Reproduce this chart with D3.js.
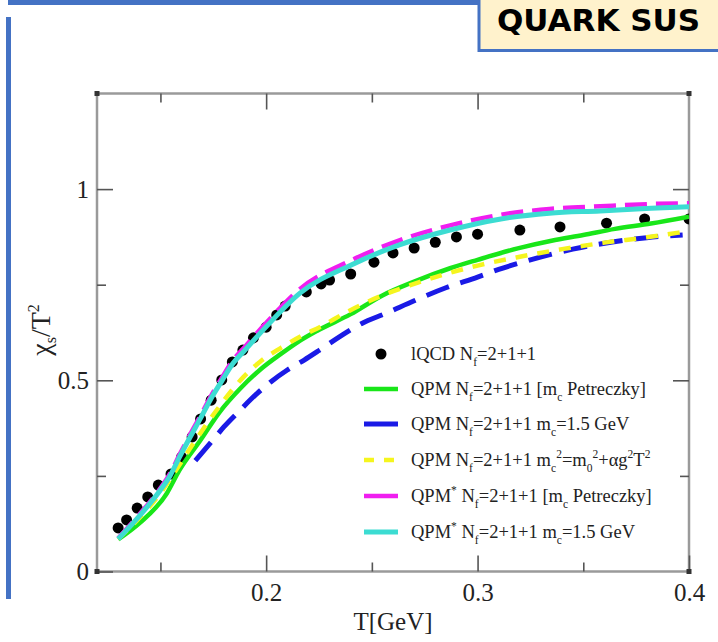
<!DOCTYPE html>
<html><head><meta charset="utf-8">
<script src="https://cdn.jsdelivr.net/npm/d3@7"></script>
<style>body{margin:0;background:#fff}svg{display:block}</style>
</head><body><svg id="c" width="718" height="642"></svg>
<script>
// ---- data ----
const lqcdT   = [0.130,0.134,0.139,0.144,0.149,0.155,0.160,0.165,0.169,0.174,0.179,0.184,0.189,0.194,0.200,0.205,0.209,0.219,0.226,0.230,0.240,0.251,0.260,0.270,0.280,0.290,0.300,0.320,0.339,0.361,0.379,0.400];
const lqcdChi = [0.114,0.135,0.166,0.195,0.226,0.255,0.299,0.352,0.399,0.448,0.501,0.548,0.579,0.611,0.639,0.671,0.694,0.731,0.752,0.762,0.778,0.809,0.833,0.846,0.861,0.875,0.882,0.893,0.901,0.911,0.922,0.922];

const greenT   = [0.130,0.140,0.153,0.159,0.169,0.178,0.188,0.197,0.207,0.215,0.224,0.240,0.255,0.270,0.287,0.300,0.319,0.335,0.350,0.365,0.382,0.400];
const greenChi = [0.084,0.126,0.204,0.265,0.344,0.417,0.480,0.527,0.569,0.600,0.629,0.673,0.722,0.758,0.793,0.815,0.845,0.865,0.880,0.896,0.910,0.928];

const blueT   = [0.1665,0.175,0.180,0.187,0.195,0.202,0.210,0.218,0.225,0.235,0.245,0.257,0.270,0.285,0.300,0.310,0.323,0.345,0.363,0.380,0.397];
const blueChi = [0.290,0.345,0.378,0.418,0.462,0.495,0.527,0.553,0.578,0.615,0.648,0.676,0.708,0.742,0.770,0.790,0.812,0.843,0.861,0.873,0.880];

const yellowT   = [0.130,0.140,0.150,0.157,0.165,0.177,0.185,0.189,0.197,0.207,0.216,0.226,0.238,0.254,0.270,0.280,0.300,0.320,0.340,0.360,0.380,0.396];
const yellowChi = [0.085,0.140,0.205,0.262,0.330,0.425,0.482,0.507,0.548,0.585,0.614,0.641,0.678,0.720,0.752,0.770,0.800,0.823,0.843,0.860,0.874,0.887];

const cyanT   = [0.130,0.140,0.150,0.1545,0.159,0.164,0.169,0.1735,0.179,0.184,0.190,0.1995,0.216,0.240,0.263,0.287,0.311,0.334,0.358,0.382,0.401];
const cyanChi = [0.085,0.145,0.213,0.250,0.299,0.351,0.401,0.448,0.498,0.542,0.579,0.637,0.728,0.801,0.854,0.893,0.922,0.937,0.943,0.950,0.954];

const magentaT   = [0.130,0.140,0.150,0.1545,0.159,0.164,0.169,0.1735,0.179,0.184,0.190,0.1995,0.216,0.240,0.263,0.287,0.311,0.334,0.358,0.382,0.401];
const magentaChi = [0.087,0.149,0.218,0.256,0.305,0.358,0.408,0.455,0.506,0.550,0.588,0.647,0.739,0.813,0.866,0.905,0.933,0.948,0.955,0.961,0.963];

const xMajor = [0.2,0.3,0.4], xMinor = [0.15,0.25,0.35];
const yMajor = [0,0.5,1], yMinor = [0.25,0.75];
const xLabels = ["0.2","0.3","0.4"], yLabels = ["0","0.5","1"];

// ---- drawing ----
const svg = d3.select("#c");
const L=97,R=689,T=93.5,B=571.5;
const x = d3.scaleLinear([0.12,0.4],[L,R]);
const y = d3.scaleLinear([0,1.25],[B,T]);
const serif = "'Liberation Serif','Times New Roman',serif";

// slide decorations
svg.append("rect").attr("x",8).attr("y",0).attr("width",472).attr("height",5).attr("fill","#4472C4");
svg.append("rect").attr("x",6).attr("y",17).attr("width",5).attr("height",582).attr("fill","#4472C4");
svg.append("rect").attr("x",479).attr("y",-5).attr("width",260).attr("height",55.5)
  .attr("fill","#FFF2CC").attr("stroke","#4472C4").attr("stroke-width",3);
svg.append("text").attr("x",497).attr("y",31).attr("font-family","'DejaVu Sans',sans-serif")
  .attr("font-weight","bold").attr("font-size",31).attr("fill","#000").text("QUARK SUS");

// frame
svg.append("rect").attr("x",L).attr("y",T).attr("width",R-L).attr("height",B-T)
  .attr("fill","none").attr("stroke","#9a9a9a").attr("stroke-width",2.5);

function axisG(axis, tx, ty){
  const g = svg.append("g").attr("transform",`translate(${tx},${ty})`).call(axis);
  g.select(".domain").remove();
  g.selectAll(".tick line").attr("stroke","#555").attr("stroke-width",1.6);
  g.selectAll(".tick text").attr("font-family",serif).attr("font-size",25).attr("fill","#222");
  return g;
}
const maj=16, mnr=9;
axisG(d3.axisBottom(x).tickValues(xMajor).tickSize(-maj).tickPadding(12).tickFormat((d,i)=>xLabels[i]),0,B);
axisG(d3.axisBottom(x).tickValues(xMinor).tickSize(-mnr).tickFormat(""),0,B);
axisG(d3.axisTop(x).tickValues(xMajor.slice(0,2)).tickSize(-maj).tickFormat(""),0,T);
axisG(d3.axisTop(x).tickValues(xMinor).tickSize(-mnr).tickFormat(""),0,T);
axisG(d3.axisLeft(y).tickValues(yMajor).tickSize(-maj).tickPadding(8).tickFormat((d,i)=>yLabels[i]),L,0);
axisG(d3.axisLeft(y).tickValues(yMinor).tickSize(-mnr).tickFormat(""),L,0);
axisG(d3.axisRight(y).tickValues(yMajor.slice(1)).tickSize(-maj).tickFormat(""),R,0);
axisG(d3.axisRight(y).tickValues(yMinor).tickSize(-mnr).tickFormat(""),R,0);
[[L,T],[R,T],[L,B],[R,B]].forEach(([cx,cy])=>svg.append("rect").attr("x",cx-2.5).attr("y",cy-2.5)
  .attr("width",5).attr("height",5).attr("fill","#333"));

// axis titles
svg.append("text").attr("x",(L+R)/2).attr("y",630).attr("text-anchor","middle")
  .attr("font-family",serif).attr("font-size",25).attr("fill","#222").text("T[GeV]");
const yt = svg.append("text").attr("transform","translate(50,330) rotate(-90)").attr("text-anchor","middle")
  .attr("font-family",serif).attr("font-size",28).attr("fill","#222");
yt.append("tspan").text("χ");
yt.append("tspan").attr("font-size",16).attr("dy",6).text("s");
yt.append("tspan").attr("dy",-6).text("/T");
yt.append("tspan").attr("font-size",16).attr("dy",-11).text("2");

// clip
svg.append("clipPath").attr("id","pc").append("rect").attr("x",L).attr("y",T).attr("width",R-L).attr("height",B-T);
const plot = svg.append("g").attr("clip-path","url(#pc)");

plot.selectAll("circle.d").data(lqcdT).join("circle")
  .attr("cx",d=>x(d)).attr("cy",(d,i)=>y(lqcdChi[i])).attr("r",5.5).attr("fill","#000");

const line = d3.line().curve(d3.curveMonotoneX);
function series(Ts, Cs, color, w, dash){
  const p = plot.append("path").attr("d",line(Ts.map((t,i)=>[x(t),y(Cs[i])])))
    .attr("fill","none").attr("stroke",color).attr("stroke-width",w).attr("stroke-linejoin","round");
  if(dash) p.attr("stroke-dasharray",dash);
}
series(greenT,greenChi,"#19e619",4.5,null);
series(blueT,blueChi,"#1a1ae6",5,"24,12");
series(yellowT,yellowChi,"#f5f51e",4.5,"12,10");
series(magentaT,magentaChi,"#f01ef0",4.5,"22,9");
series(cyanT,cyanChi,"#3cdcd2",5,null);

// legend
const leg = [
  {type:"dot", parts:[["lQCD N",0],["f",1],["=2+1+1",0]]},
  {type:"line", color:"#19e619", w:4.5, parts:[["QPM N",0],["f",1],["=2+1+1 [m",0],["c",1],[" Petreczky]",0]]},
  {type:"line", color:"#1a1ae6", w:5, parts:[["QPM N",0],["f",1],["=2+1+1 m",0],["c",1],["=1.5 GeV",0]]},
  {type:"line", color:"#f5f51e", w:4.5, dash:"10,10", parts:[["QPM N",0],["f",1],["=2+1+1 m",0],["c",1],["2",2],["=m",0],["0",1],["2",2],["+αg",0],["2",2],["T",0],["2",2]]},
  {type:"line", color:"#f01ef0", w:4.5, parts:[["QPM",0],["*",2],[" N",0],["f",1],["=2+1+1 [m",0],["c",1],[" Petreczky]",0]]},
  {type:"line", color:"#3cdcd2", w:5, parts:[["QPM",0],["*",2],[" N",0],["f",1],["=2+1+1 m",0],["c",1],["=1.5 GeV",0]]}
];
const rowY = [354,389,424,460,496,532];
leg.forEach((e,i)=>{
  const cy = rowY[i];
  if(e.type==="dot") svg.append("circle").attr("cx",381).attr("cy",cy).attr("r",5.5).attr("fill","#000");
  else {
    const l = svg.append("line").attr("x1",364).attr("x2",398).attr("y1",cy).attr("y2",cy)
      .attr("stroke",e.color).attr("stroke-width",e.w);
    if(e.dash) l.attr("stroke-dasharray",e.dash);
  }
  const t = svg.append("text").attr("x",411).attr("y",cy+6).attr("font-family",serif)
    .attr("font-size",18.5).attr("fill","#222");
  let cur = 0;
  e.parts.forEach(([s,k])=>{
    const target = k===1?6:(k===2?-8:0);
    const ts = t.append("tspan").attr("dy",target-cur).text(s);
    if(k) ts.attr("font-size",11.5);
    cur = target;
  });
});
</script></body></html>
